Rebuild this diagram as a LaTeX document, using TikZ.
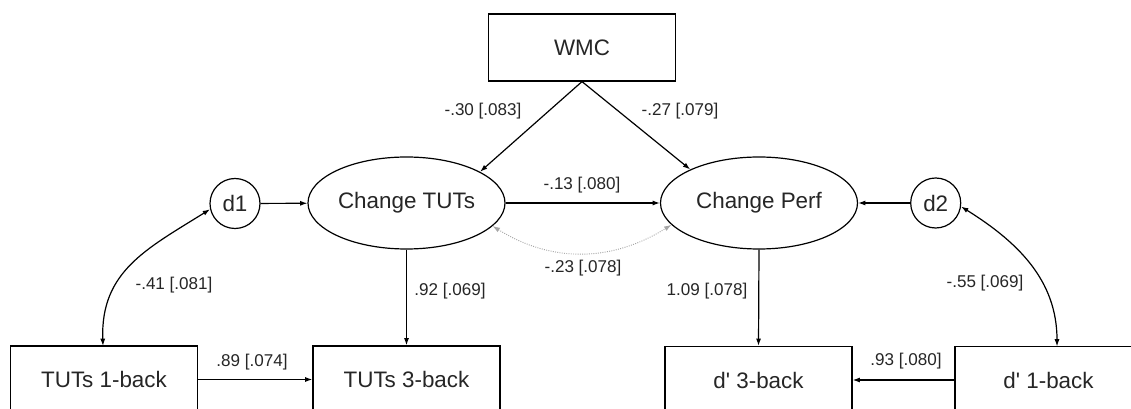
\documentclass[tikz,border=0pt]{standalone}
\usepackage{fontspec}
\setmainfont{Liberation Sans}
\usetikzlibrary{arrows.meta,shapes.geometric}
\begin{document}
\begin{tikzpicture}[x=0.75pt,y=-0.75pt,
  line width=0.9pt,
  every node/.style={text=black!85},
  obs/.style={draw, rectangle, minimum width=140.25pt, minimum height=50.25pt, inner sep=0pt, font=\fontsize{16.8}{18}\selectfont},
  lat/.style={draw, ellipse, minimum width=147.75pt, minimum height=69pt, inner sep=0pt, font=\fontsize{16.8}{18}\selectfont},
  dist/.style={draw, circle, minimum size=37.5pt, inner sep=0pt, font=\fontsize{16.8}{18}\selectfont},
  lbl/.style={font=\fontsize{12.8}{14}\selectfont, inner sep=1pt},
  arr/.style={-{Latex[length=5.5pt,width=3.8pt]}},
  darr/.style={{Latex[length=5.5pt,width=3.8pt]}-{Latex[length=5.5pt,width=3.8pt]}},
]
\clip (0,0) rectangle (1131,409);
\fill[white] (0,0) rectangle (1131,409);

\node[obs] (wmc) at (582,47.5) {WMC};
\node[lat] (ct) at (406.5,203) {Change TUTs};
\node[lat] (cp) at (759,203) {Change Perf};
\node[dist] (d1) at (235,203.5) {d1};
\node[dist] (d2) at (935.7,203) {d2};
\node[obs] (b1) at (104,379.5) {TUTs 1-back};
\node[obs] (b2) at (406.5,379.5) {TUTs 3-back};
\node[obs] (b3) at (758.5,380) {d\textquotesingle{} 3-back};
\node[obs] (b4) at (1048.5,380) {d\textquotesingle{} 1-back};
\coordinate (b4top) at (1057,346.5);
\coordinate (b1top) at (103,346);

\draw[arr] (wmc.south) -- (ct.23);
\draw[arr] (wmc.south) -- (cp.154);
\draw[arr] (d1) -- (ct);
\draw[arr] (d2) -- (cp);
\draw[arr] (ct) -- (cp);
\draw[arr] (ct.south) -- (b2.north);
\draw[arr] (cp.south) -- (b3.north);
\draw[arr] (b1) -- (b2);
\draw[arr] (b4) -- (b3);
\draw[darr] (d1.193) to[out=212,in=92,looseness=1.1] (b1top);
\draw[darr] (d2.-8) to[out=-32,in=90] (b4top);
\draw[darr, gray!70, densely dotted, line width=0.7pt] (ct.-15) to[out=-32,in=-148] (cp.-166);

\node[lbl] (l1) at (483,111) {-.30 [.083]};
\node[lbl] (l2) at (680,111) {-.27 [.079]};
\node[lbl] (l3) at (582,185) {-.13 [.080]};
\node[lbl] (l4) at (583,268) {-.23 [.078]};
\node[lbl] (l5) at (450,291) {.92 [.069]};
\node[lbl] (l6) at (707,291) {1.09 [.078]};
\node[lbl] (l7) at (174,285) {-.41 [.081]};
\node[lbl] (l8) at (985,283) {-.55 [.069]};
\node[lbl] (l9) at (252,362) {.89 [.074]};
\node[lbl] (l10) at (906,361) {.93 [.080]};
\end{tikzpicture}
\end{document}
